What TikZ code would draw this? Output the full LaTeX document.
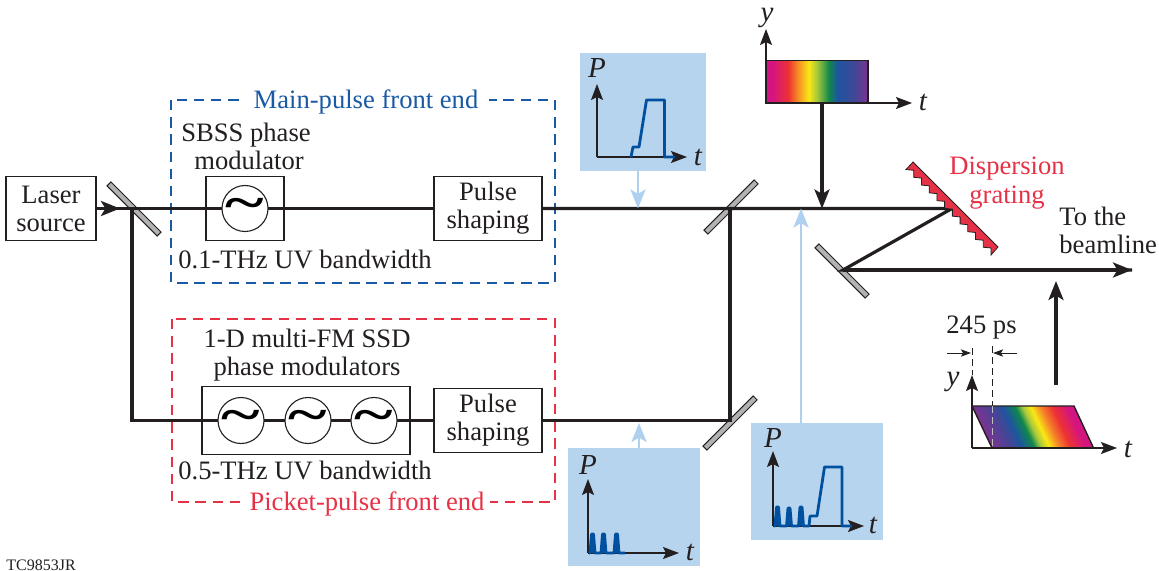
\documentclass[tikz,border=0pt]{standalone}
\usepackage{fontspec}
\setmainfont{Liberation Serif}
\usetikzlibrary{arrows.meta}
\definecolor{inkblack}{RGB}{35,31,32}
\definecolor{insetblue}{RGB}{183,212,238}
\definecolor{tapblue}{RGB}{175,208,238}
\definecolor{curveblue}{RGB}{0,80,160}
\definecolor{mainblue}{RGB}{25,90,165}
\definecolor{picketred}{RGB}{230,50,70}
\definecolor{mirrorgray}{RGB}{178,178,178}
\definecolor{specpurple}{RGB}{125,50,145}
\definecolor{specmagenta}{RGB}{212,20,128}
\definecolor{specred}{RGB}{237,50,50}
\definecolor{specorange}{RGB}{245,130,40}
\definecolor{specyellow}{RGB}{250,232,20}
\definecolor{speclime}{RGB}{165,200,60}
\definecolor{specgreen}{RGB}{15,135,75}
\definecolor{specblue}{RGB}{30,85,160}
\definecolor{specindigo}{RGB}{62,72,150}
\pgfdeclarehorizontalshading{spectrum}{100bp}{color(0bp)=(specmagenta);
  color(25bp)=(specmagenta);color(28bp)=(specmagenta);color(36bp)=(specred);
  color(40bp)=(specorange);color(46bp)=(specyellow);color(50bp)=(speclime);
  color(56bp)=(specgreen);color(60bp)=(specblue);color(68bp)=(specindigo);
  color(75bp)=(specpurple);color(100bp)=(specpurple)}
\pgfdeclarehorizontalshading{spectrumrev}{100bp}{color(0bp)=(specpurple);
  color(25bp)=(specpurple);color(36bp)=(specindigo);color(40bp)=(specblue);
  color(46bp)=(specgreen);color(49.5bp)=(speclime);color(53.5bp)=(specyellow);
  color(58.5bp)=(specorange);color(64bp)=(specred);color(71.5bp)=(specmagenta);
  color(75bp)=(specmagenta);color(100bp)=(specmagenta)}
\tikzset{>=latex}
\tikzstyle{beam}=[inkblack,line width=1.6pt]
\tikzstyle{beamarrow}=[beam,-{Stealth[length=9.5pt,width=7.5pt,inset=2.2pt]}]
\tikzstyle{taparrow}=[tapblue,line width=1.35pt,-{Stealth[length=9.5pt,width=7.5pt,inset=2.2pt]}]
\tikzstyle{axisline}=[inkblack,line width=.7pt,-{Stealth[length=8pt,width=6pt,inset=1.5pt]}]
\tikzstyle{dimline}=[inkblack,line width=.45pt,-{Stealth[length=5pt,width=3.6pt,inset=1pt]}]
\tikzstyle{pulse}=[curveblue,line width=1.4pt,line join=round]
\tikzstyle{label}=[inkblack,inner sep=0pt,align=center,font=\fontsize{13.3}{14}\selectfont]
\tikzstyle{axislabel}=[inkblack,inner sep=0pt,font=\fontsize{14.5}{14.5}\selectfont\itshape]
\tikzstyle{boxed}=[draw=inkblack,line width=.6pt,fill=white,inner sep=0pt,align=center,font=\fontsize{13.3}{14}\selectfont,text=inkblack]
\tikzstyle{oscillator}=[draw=inkblack,line width=.55pt,fill=white,circle,minimum size=23pt,inner sep=0pt]
\tikzstyle{mirror}=[draw=inkblack,line width=.5pt,fill=mirrorgray,minimum width=35.5pt,minimum height=2.8pt,inner sep=0pt]
\tikzstyle{inset}=[fill=insetblue,inner sep=0pt]
\tikzstyle{frontend}=[line width=.75pt,dash pattern=on 5.2pt off 3.4pt]
\tikzstyle{frametitle}=[inner sep=0pt,fill=white,font=\fontsize{13.3}{14}\selectfont,minimum width=123pt,minimum height=12pt]
\newcommand{\wave}{\scalebox{3.7}[2.5]{\bfseries\char"7E}}

\begin{document}
\begin{tikzpicture}[x=.5pt,y=-.5pt]
	\useasboundingbox (0,0) rectangle (1159,571);
	
	% front end frames
	\draw[frontend,mainblue] (171,100) rectangle (555,283);
	\draw[frontend,picketred] (172,319) rectangle (555,502);
	\node[frametitle,text=mainblue] (maintitle) at (366,102) {Main-pulse front end};
	\node[frametitle,text=picketred] (pickettitle) at (367,504) {Picket-pulse front end};
	
	% mirrors
	\node[mirror,rotate=-45] (splitter) at (134,209) {};
	\node[mirror,rotate=45] (mirrortop) at (731,207) {};
	\node[mirror,rotate=45] (mirrorbottom) at (730,423) {};
	\node[mirror,rotate=-45] (mirrorout) at (842,271) {};
	
	% beam corners
	\coordinate (splitpoint) at (132,208.5);
	\coordinate (lowercorner) at (132,420.5);
	\coordinate (toppoint) at (730,208.5);
	\coordinate (bottompoint) at (730,420.5);
	\coordinate (gratingpoint) at (952,208.5);
	\coordinate (outpoint) at (843,270);
	\coordinate (beamend) at (1132,270);
	\coordinate (arrivalend) at (1056,281);
	\coordinate (arrivalstart) at (1056,385);
	\coordinate (spectrumdrop) at (822,103);
	\coordinate (spectrumhit) at (822,208.5);
	\coordinate (mainhit) at (638,208.5);
	\coordinate (pickethit) at (639,423);
	\coordinate (combinedhit) at (801,208.5);
	
	% laser and phase modulators
	\node[boxed,minimum width=45pt,minimum height=32pt] (laser) at (51,208.5) {Laser\\source};
	\node[boxed,minimum width=39pt,minimum height=32pt] (mainmod) at (245,208.5) {};
	\node[boxed,minimum width=54pt,minimum height=32pt] (mainshape) at (488,208.5) {Pulse\\shaping};
	\node[boxed,minimum width=104pt,minimum height=34pt] (picketmod) at (306,420.5) {};
	\node[boxed,minimum width=54pt,minimum height=32pt] (picketshape) at (488,420.5) {Pulse\\shaping};
	
	\draw[beam] (splitpoint) -- (lowercorner) -- (picketmod.west);
	\draw[beam] (laser.east) -- (splitpoint) -- (mainmod.west);
	\draw[beam] (mainmod.east) -- (mainshape.west);
	\draw[beam] (mainshape.east) -- (toppoint) -- (gratingpoint) -- (outpoint) -- (beamend);
	\draw[beam] (picketmod.east) -- (picketshape.west);
	\draw[beam] (picketshape.east) -- (bottompoint) -- (toppoint);
	\draw[beam] (mainmod.west) -- (mainmod.east);
	\draw[beam] (picketmod.west) -- (picketmod.east);
	\draw[beamarrow] (laser.east) -- (120,208.5);
	\draw[beamarrow] (outpoint) -- (beamend);
	\draw[beamarrow] (arrivalstart) -- (arrivalend);
	\draw[beamarrow] (spectrumdrop) -- (spectrumhit);
	
	\node[oscillator] (oscmain) at (245,208.5) {\wave};
	\foreach \osc/\x in {a/241,b/308,c/374}{
		\node[oscillator] (osc\osc) at (\x,420.5) {\wave};
	}
	
	\node[label] (mainname) at (246,146) {SBSS phase\\\hspace{3pt}modulator};
	\node[label] (mainband) at (305,259) {0.1-THz UV bandwidth};
	\node[label] (picketname) at (307,355.5) {1-D multi-FM SSD\\phase modulators};
	\node[label] (picketband) at (305,470) {0.5-THz UV bandwidth};
	\node[label,align=left,anchor=west] (beamline) at (1059,230) {To the\\beamline};
	\node[label,text=picketred,font=\fontsize{13.3}{14.5}\selectfont] (gratingname) at (1007,183) {Dispersion\\grating};
	\node[label] (delay) at (981.5,328) {245 ps};
	\node[inkblack,inner sep=0pt,anchor=base west,font=\fontsize{8}{9}\selectfont] (figcode) at (6,570.5) {TC9853JR};
	
	% grating
	\fill[picketred,draw=inkblack,line width=.4pt] (913,162) -- (998,247) -- (991,255)
		foreach \tooth in {1,...,11}{ -- ++(0,-7) -- ++(-7.73,-.77) } -- cycle;
	
	% main pulse inset
	\node[inset,minimum width=63pt,minimum height=59pt] (insetmain) at (643,112) {};
	\coordinate (mainO) at (597,157);
	\node[axislabel] (mainP) at (597,68) {P};
	\node[axislabel] (maint) at (698,157) {t};
	\draw[axisline] (mainO) -- (597,84);
	\draw[axisline] (mainO) -- (687,157);
	\draw[pulse] (631,157) -- (633,147) -- (639,147) -- (646.5,100) -- (664.5,100) -- (664.5,157) -- (675,157);
	\draw[taparrow] (insetmain.south -| mainhit) -- (mainhit);
	
	% picket pulse inset
	\node[inset,minimum width=66pt,minimum height=59pt] (insetpicket) at (634,507) {};
	\coordinate (picketO) at (588,553);
	\node[axislabel] (picketP) at (588,465) {P};
	\node[axislabel] (pickett) at (690,552) {t};
	\draw[axisline] (picketO) -- (588,479);
	\draw[axisline] (picketO) -- (679,553);
	\draw[pulse,fill=curveblue] (589,553) foreach \x in {592.5,603.5,616.5}{ -- (\x-2.5,553) -- (\x-1,534) -- (\x+1,534) -- (\x+2.5,553) } -- (625,553);
	\draw[taparrow] (insetpicket.north -| pickethit) -- (pickethit);
	
	% combined pulse inset
	\node[inset,minimum width=66pt,minimum height=58.5pt] (insetboth) at (817,481.5) {};
	\coordinate (bothO) at (773,526);
	\node[axislabel] (bothP) at (773,438) {P};
	\node[axislabel] (botht) at (873,525) {t};
	\draw[axisline] (bothO) -- (773,451);
	\draw[axisline] (bothO) -- (864,526);
	\fill[curveblue] (774,526) foreach \x/\h in {777.5/507,789/508,801/507}{ -- (\x-2.5,526) -- (\x-1,\h) -- (\x+1,\h) -- (\x+2.5,526) } -- cycle;
	\draw[pulse] (774,526) foreach \x/\h in {777.5/507,789/508,801/507}{ -- (\x-2.5,526) -- (\x-1,\h) -- (\x+1,\h) -- (\x+2.5,526) } -- (809,526)
		-- (810,516) -- (817,516) -- (824.5,467) -- (842,467) -- (842,526) -- (852,526);
	\draw[taparrow] (insetboth.north -| combinedhit) -- (combinedhit);
	
	% stretched spectrum at the top
	\shade[shading=spectrum] (766,60.5) rectangle (868,103);
	\draw[inkblack,line width=.7pt] (766,60.5) rectangle (868,103);
	\coordinate (topO) at (766,60.5);
	\coordinate (topE) at (868,103);
	\node[axislabel] (topy) at (767,18) {y};
	\node[axislabel] (topt) at (923,102) {t};
	\draw[axisline] (topO) -- (766,29);
	\draw[axisline] (topE) -- (912,103);
	
	% tilted spectrum on the beamline
	\shade[shading=spectrumrev,transform canvas={shift={(972,406)},xslant=-.47}] (0,0) rectangle (102,42);
	\draw[inkblack,line width=.7pt] (972,406) -- (1074,406) -- (1093.5,448) -- (992,448) -- cycle;
	\coordinate (tiltO) at (972,448);
	\node[axislabel] (tilty) at (953,382) {y};
	\node[axislabel] (tiltt) at (1128,449) {t};
	\draw[axisline] (tiltO) -- (972,375);
	\draw[axisline] (tiltO) -- (1117,448);
	\coordinate (dashleft) at (972,348);
	\coordinate (dashright) at (992,346);
	\draw[inkblack,line width=.5pt,dash pattern=on 3.5pt off 2pt] (dashleft) -- (972,375);
	\draw[inkblack,line width=.5pt,dash pattern=on 3.5pt off 2pt] (dashright) -- (992,406);
	\draw[white!75!black,line width=.5pt,dash pattern=on 3.5pt off 2pt] (992,406) -- (992,448);
	\draw[dimline] (947,353) -- (971,353);
	\draw[dimline] (1017,353) -- (993,353);
\end{tikzpicture}
\end{document}
